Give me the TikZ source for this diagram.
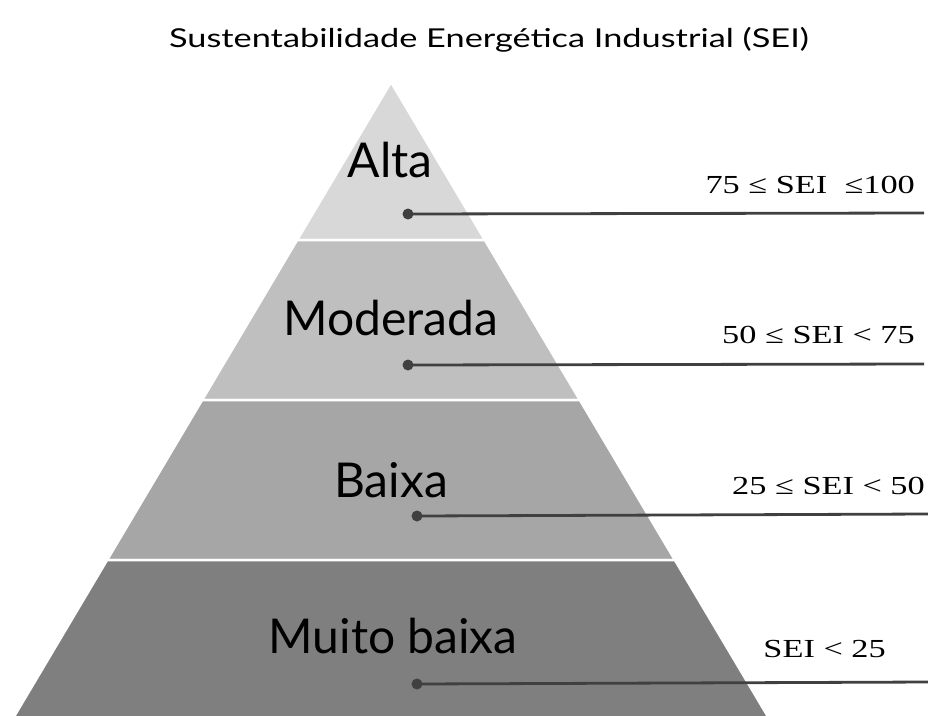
\documentclass[tikz,border=0pt]{standalone}
\usepackage{graphicx}
\usepackage{fontspec}
\setmainfont{Liberation Serif}
\newfontfamily\tierfont{Lato}
\newfontfamily\titlefont{Lato}
\definecolor{tierA}{RGB}{216,216,216}
\definecolor{tierB}{RGB}{191,191,191}
\definecolor{tierC}{RGB}{166,166,166}
\definecolor{tierD}{RGB}{127,127,127}
\definecolor{linegray}{RGB}{64,64,64}
\newcommand{\widetext}[1]{\scalebox{1.32}[1]{#1}}
\tikzset{
  tier/.style={draw=white, line width=2.5pt, line join=miter},
  tierlabel/.style={font=\tierfont\fontsize{48}{50}\selectfont, text=black, inner sep=0pt, anchor=base},
  rangelabel/.style={font=\fontsize{26}{28}\selectfont, text=black, inner sep=0pt, anchor=base east},
  dotnode/.style={circle, fill=linegray, draw=none, minimum size=11pt, inner sep=0pt},
  leader/.style={draw=linegray, line width=2.8pt},
}
\begin{document}
\begin{tikzpicture}[x=1pt,y=-1pt]
\useasboundingbox (0,0) rectangle (928,715);
\clip (0,0) rectangle (928,715);
% tiers
\path[tier, fill=tierA] (391,82) -- (484.9,240) -- (297.1,240) -- cycle;
\path[tier, fill=tierB] (297.1,240) -- (484.9,240) -- (579.9,400) -- (202.1,400) -- cycle;
\path[tier, fill=tierC] (202.1,400) -- (579.9,400) -- (674.9,560) -- (107.1,560) -- cycle;
\path[tier, fill=tierD] (107.1,560) -- (674.9,560) -- (776.5,731) -- (5.5,731) -- cycle;
% title
\node[font=\titlefont\fontsize{26}{28}\selectfont, inner sep=0pt, anchor=base] (title) at (489,47) {\widetext{Sustentabilidade Energética Industrial (SEI)}};
% tier labels
\node[tierlabel] (alta) at (390,177) {Alta};
\node[tierlabel] (moderada) at (391,335) {Moderada};
\node[tierlabel] (baixa) at (391,497) {Baixa};
\node[tierlabel] (muito) at (393,653) {Muito baixa};
% dots
\node[dotnode] (d1) at (408,214) {};
\node[dotnode] (d2) at (408,365) {};
\node[dotnode] (d3) at (417,516) {};
\node[dotnode] (d4) at (417,684) {};
\coordinate (e1) at (924,213);
\coordinate (e2) at (924,364);
\coordinate (e3) at (928,514);
\coordinate (e4) at (928,682);
\draw[leader] (d1.center) -- (e1);
\draw[leader] (d2.center) -- (e2);
\draw[leader] (d3.center) -- (e3);
\draw[leader] (d4.center) -- (e4);
% range labels
\node[rangelabel] (r1) at (915,193) {\widetext{75 ≤ SEI\ \ ≤100}};
\node[rangelabel] (r2) at (915,343) {\widetext{50 ≤ SEI < 75}};
\node[rangelabel] (r3) at (925,494) {\widetext{25 ≤ SEI < 50}};
\node[rangelabel] (r4) at (886,657) {\widetext{SEI < 25}};
\end{tikzpicture}
\end{document}
